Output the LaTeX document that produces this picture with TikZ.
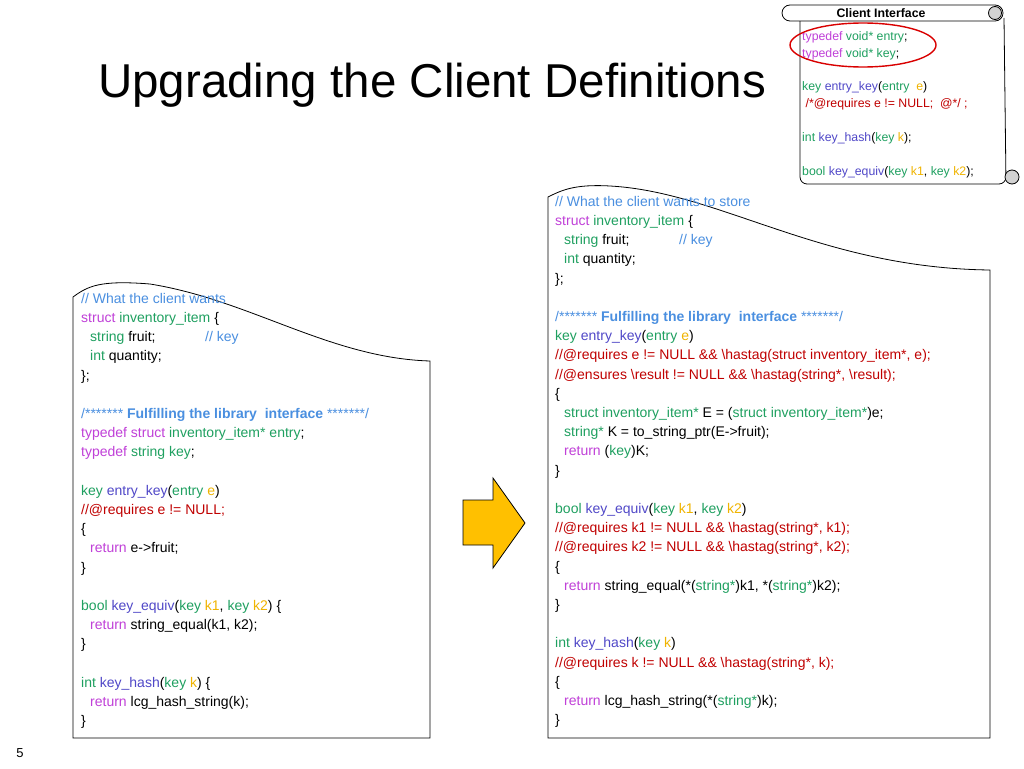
\documentclass[tikz,border=0pt]{standalone}
\usepackage{fontspec}
\setmainfont{Liberation Sans}
\definecolor{kwpurple}{HTML}{C040D8}
\definecolor{tygreen}{HTML}{1FA060}
\definecolor{fnblue}{HTML}{5048C8}
\definecolor{paorange}{HTML}{F0B400}
\definecolor{cmblue}{HTML}{4A8FE0}
\definecolor{ctred}{HTML}{C00000}
\definecolor{arrowyellow}{HTML}{FFC000}
\newcommand{\kw}[1]{\textcolor{kwpurple}{#1}}
\newcommand{\ty}[1]{\textcolor{tygreen}{#1}}
\newcommand{\fn}[1]{\textcolor{fnblue}{#1}}
\newcommand{\pa}[1]{\textcolor{paorange}{#1}}
\newcommand{\cm}[1]{\textcolor{cmblue}{#1}}
\newcommand{\ct}[1]{\textcolor{ctred}{#1}}
\newcommand{\ind}{\hspace*{9pt}}
\newcommand{\bs}{\textbackslash}

\begin{document}
\begin{tikzpicture}[x=1pt, y=-1pt,
    code/.style={anchor=north west, inner sep=0pt, align=left,
                 font=\fontsize{14}{19.2}\selectfont},
    scrolltext/.style={anchor=north west, inner sep=0pt, align=left,
                 font=\fontsize{12.3}{16.9}\selectfont},
    outline/.style={draw, line width=0.8pt},
]
\useasboundingbox (0,0) rectangle (1024,768);

% Title and page number
\node[anchor=base west, inner sep=0pt, font=\fontsize{47.5}{55}\selectfont] (title) at (98,97) {Upgrading the Client Definitions};
\node[anchor=base, inner sep=0pt, font=\fontsize{13}{15}\selectfont] (pagenum) at (20,757) {5};

% Left code sheet
\draw[outline, fill=white] (73,738) -- (73,297) .. controls (88,286) and (100,280) .. (150,284)
    .. controls (250,300) and (330,358) .. (430,361) -- (430,738) -- cycle;
\node[code] (oldcode) at (81,293) {%
\cm{// What the client wants}\\
\kw{struct} \ty{inventory\_item} \{\\
\ind\makebox[115pt][l]{\ty{string} fruit;}\cm{// key}\\
\ind\ty{int} quantity;\\
\};\\
\mbox{}\\
\cm{/******* \textbf{Fulfilling the library\ \ interface} *******/}\\
\kw{typedef struct} \ty{inventory\_item* entry};\\
\kw{typedef} \ty{string key};\\
\mbox{}\\
\ty{key} \fn{entry\_key}(\ty{entry} \pa{e})\\
\ct{//@requires e != NULL;}\\
\{\\
\ind\kw{return} e->fruit;\\
\}\\
\mbox{}\\
\ty{bool} \fn{key\_equiv}(\ty{key} \pa{k1}, \ty{key} \pa{k2}) \{\\
\ind\kw{return} string\_equal(k1, k2);\\
\}\\
\mbox{}\\
\ty{int} \fn{key\_hash}(\ty{key} \pa{k}) \{\\
\ind\kw{return} lcg\_hash\_string(k);\\
\}};

% Right code sheet
\draw[outline, fill=white] (548,738) -- (548,197) .. controls (562,190) and (575,184) .. (610,186)
    .. controls (720,192) and (820,268) .. (990,270) -- (990,738) -- cycle;
\node[code] (newcode) at (555,196) {%
\cm{// What the client wants to store}\\
\kw{struct} \ty{inventory\_item} \{\\
\ind\makebox[115pt][l]{\ty{string} fruit;}\cm{// key}\\
\ind\ty{int} quantity;\\
\};\\
\mbox{}\\
\cm{/******* \textbf{Fulfilling the library\ \ interface} *******/}\\
\ty{key} \fn{entry\_key}(\ty{entry} \pa{e})\\
\ct{//@requires e != NULL \&\& \bs hastag(struct inventory\_item*, e);}\\
\ct{//@ensures \bs result != NULL \&\& \bs hastag(string*, \bs result);}\\
\{\\
\ind\ty{struct inventory\_item*} E = (\ty{struct inventory\_item*})e;\\
\ind\ty{string*} K = to\_string\_ptr(E->fruit);\\
\ind\kw{return} (\ty{key})K;\\
\}\\
\mbox{}\\
\ty{bool} \fn{key\_equiv}(\ty{key} \pa{k1}, \ty{key} \pa{k2})\\
\ct{//@requires k1 != NULL \&\& \bs hastag(string*, k1);}\\
\ct{//@requires k2 != NULL \&\& \bs hastag(string*, k2);}\\
\{\\
\ind\kw{return} string\_equal(*(\ty{string*})k1, *(\ty{string*})k2);\\
\}\\
\mbox{}\\
\ty{int} \fn{key\_hash}(\ty{key} \pa{k})\\
\ct{//@requires k != NULL \&\& \bs hastag(string*, k);}\\
\{\\
\ind\kw{return} lcg\_hash\_string(*(\ty{string*})k);\\
\}};

% Block arrow between sheets
\draw[line width=0.8pt, fill=arrowyellow] (463,500) -- (493,500) -- (493,478) -- (525,523)
    -- (493,568) -- (493,545) -- (463,545) -- cycle;

% Client interface scroll
\draw[outline, fill=white, rounded corners=7pt] (800,18) -- (800,184) -- (1006,184) -- (1004,18);
\draw[outline, fill=white, rounded corners=8pt] (782,5) rectangle (1003,21);
\draw[outline, fill=gray!35] (995,13) circle[radius=6.5];
\draw[outline, fill=gray!35] (1012,177) circle[radius=7];
\node[anchor=base, inner sep=0pt, font=\fontsize{12.3}{14}\selectfont\bfseries] (scrolltitle) at (881,18) {Client Interface};
\node[scrolltext] (iface) at (802,31) {%
\kw{typedef} \ty{void* entry};\\
\kw{typedef} \ty{void* key};\\
\mbox{}\\
\ty{key} \fn{entry\_key}(\ty{entry}\ \ \pa{e})\\
\ \ct{/*@requires e != NULL;\ \ @*/ ;}\\
\mbox{}\\
\ty{int} \fn{key\_hash}(\ty{key} \pa{k});\\
\mbox{}\\
\ty{bool} \fn{key\_equiv}(\ty{key} \pa{k1}, \ty{key} \pa{k2});};
\draw[red!85!black, line width=1.4pt] (863,45) ellipse[x radius=73, y radius=22];
\end{tikzpicture}
\end{document}
